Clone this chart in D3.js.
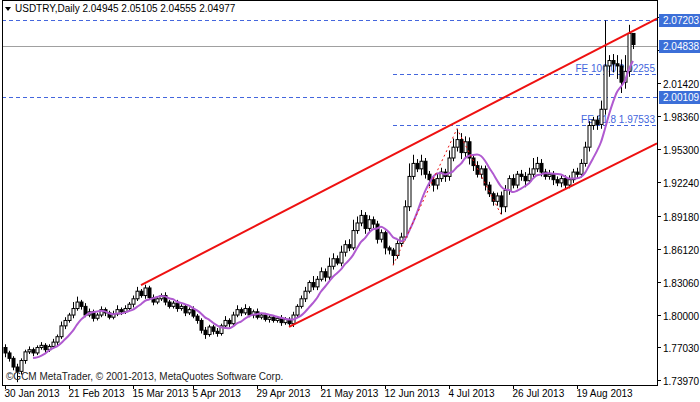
<!DOCTYPE html><html><head><meta charset="utf-8"><script src="https://cdn.jsdelivr.net/npm/d3@7"></script>
<style>body{margin:0;background:#fff}text{font-family:"Liberation Sans",sans-serif;font-size:10px}</style></head><body><svg id="c" width="700" height="402"></svg><script>
const closes=[1.765,1.760,1.752,1.748,1.758,1.766,1.768,1.765,1.770,1.772,1.768,1.771,1.775,1.780,1.790,1.795,1.800,1.806,1.812,1.808,1.800,1.803,1.797,1.800,1.805,1.802,1.798,1.801,1.805,1.803,1.806,1.810,1.815,1.822,1.818,1.825,1.816,1.812,1.815,1.818,1.812,1.808,1.811,1.806,1.808,1.802,1.805,1.799,1.795,1.786,1.782,1.789,1.785,1.783,1.790,1.795,1.792,1.800,1.805,1.802,1.806,1.800,1.803,1.798,1.800,1.796,1.798,1.795,1.797,1.793,1.796,1.792,1.800,1.808,1.815,1.822,1.830,1.826,1.833,1.840,1.835,1.845,1.852,1.848,1.858,1.865,1.862,1.878,1.885,1.892,1.880,1.888,1.884,1.870,1.876,1.862,1.860,1.855,1.866,1.872,1.900,1.928,1.940,1.935,1.942,1.930,1.925,1.920,1.926,1.932,1.928,1.945,1.955,1.962,1.950,1.960,1.945,1.938,1.930,1.935,1.920,1.912,1.905,1.910,1.900,1.915,1.926,1.920,1.930,1.928,1.924,1.930,1.935,1.940,1.932,1.928,1.930,1.925,1.922,1.926,1.920,1.925,1.932,1.930,1.940,1.955,1.975,1.980,1.976,1.990,2.030,2.035,2.032,2.030,2.015,2.025,2.060,2.0498];
const firstOpen=1.770;
const hiExt=[3,2,2,3,2,2,3,2,2,3,2,2,3,2,4,3,2,6,5,2,3,3,2,2,3,2,2,3,4,2,3,2,3,4,2,3,2,3,2,2,3,2,2,3,2,2,2,3,2,2,3,2,2,3,2,4,2,3,4,2,4,2,2,3,2,2,3,2,2,3,2,2,3,2,3,4,2,6,3,4,3,8,5,3,6,4,5,10,6,5,3,4,3,3,3,2,2,2,3,4,6,12,8,4,6,3,3,3,5,4,3,7,8,10,6,5,4,3,4,3,3,3,2,3,4,5,3,4,3,4,4,6,10,6,4,3,4,3,3,3,3,4,3,4,4,5,4,3,4,10,37,10,6,8,6,8,8,3];
const loExt=[4,3,3,10,3,3,2,3,2,2,3,2,2,3,2,3,2,3,2,3,2,2,3,2,2,3,2,2,2,3,2,2,3,2,2,3,2,3,2,2,3,2,2,3,2,3,2,2,3,3,4,2,3,3,2,2,3,2,2,3,2,2,3,2,2,2,3,2,2,3,2,2,3,2,2,3,2,3,3,2,4,3,3,2,3,4,3,2,3,3,5,3,4,4,3,6,4,6,3,3,3,4,3,3,6,4,6,6,4,3,5,4,3,4,6,5,6,5,3,4,5,3,4,4,3,5,4,3,3,4,6,3,3,3,4,3,3,5,3,4,3,3,3,4,3,3,4,4,5,4,5,10,8,12,6,6,5];
const highOverride={113:1.972,149:1.998,150:2.072,151:2.040,155:2.040,156:2.068,157:2.0511};
const lowOverride={97:1.846,124:1.893,154:2.005,157:2.0456};
const xTickBars=[0,16,32,47,63,79,95,111,127,143];
const xTickLabels=["30 Jan 2013","21 Feb 2013","15 Mar 2013","5 Apr 2013","29 Apr 2013","21 May 2013","12 Jun 2013","4 Jul 2013","26 Jul 2013","19 Aug 2013"];
const yTicks=[2.0754,2.0448,2.0142,1.9836,1.9530,1.9224,1.8918,1.8612,1.8306,1.8000,1.7703,1.7397];
const hiddenTicks=[2.0754,2.0448];
const hLevels=[{v:2.07203,c:"#4466dd",label:"2.07203"},{v:2.04838,c:"#a0a0a0",label:"2.04838"},{v:2.00109,c:"#4466dd",label:"2.00109"}];
const feLevels=[{v:2.02255,label:"FE 100.0 2.02255",from:97},{v:1.97533,label:"FE 61.8 1.97533",from:97}];
const upperLine=[[34,1.8277],[163,2.0738]],lowerLine=[[71,1.789],[163,1.9586]];
const zigzag=[[97,1.8460],[113,1.9720],[124,1.8930]];
const header="USDTRY,Daily  2.04945 2.05105 2.04555 2.04977";

const svg=d3.select("#c");
const W=657,H=385;
const x=d3.scaleLinear().domain([0,1]).range([5,9]);
const y=d3.scaleLinear().domain([1.7354,2.0909]).range([H,0]);
const g=svg.append("g");
hLevels.forEach(l=>g.append("line").attr("x1",2).attr("x2",W).attr("y1",Math.round(y(l.v))+.5).attr("y2",Math.round(y(l.v))+.5).attr("stroke",l.c).attr("stroke-dasharray",l.c==="#a0a0a0"?null:"4,3"));
feLevels.forEach(l=>{const yy=Math.round(y(l.v))+.5;g.append("line").attr("x1",x(l.from)).attr("x2",W).attr("y1",yy).attr("y2",yy).attr("stroke","#4466dd").attr("stroke-dasharray","4,3");
g.append("text").attr("x",W-2).attr("y",yy-3).attr("text-anchor","end").attr("fill","#4466dd").text(l.label);});
const opens=closes.map((c,i)=>i?closes[i-1]:firstOpen);
closes.forEach((c,i)=>{const o=opens[i],cx=Math.round(x(i))+.5;
const hi=highOverride[i]!==undefined?highOverride[i]:Math.max(o,c)+(hiExt[i]||2)/1000;
const lo=lowOverride[i]!==undefined?lowOverride[i]:Math.min(o,c)-(loExt[i]||2)/1000;
g.append("line").attr("x1",cx).attr("x2",cx).attr("y1",y(hi)).attr("y2",y(lo)).attr("stroke","#000");
const t=y(Math.max(o,c)),b=y(Math.min(o,c));
g.append("rect").attr("x",cx-1.5).attr("y",t).attr("width",3).attr("height",Math.max(1,b-t)).attr("fill",c>=o?"#fff":"#000").attr("stroke","#000");});
const per=8,ma=[];closes.forEach((c,i)=>{if(i>=per-1)ma.push([i,d3.mean(closes.slice(i-per+1,i+1))]);});
g.append("path").attr("d",d3.line().x(p=>x(p[0])).y(p=>y(p[1])).curve(d3.curveMonotoneX)(ma)).attr("fill","none").attr("stroke","#b05ad0").attr("stroke-width",2);
[upperLine,lowerLine].forEach(L=>g.append("line").attr("x1",x(L[0][0])).attr("y1",y(L[0][1])).attr("x2",x(L[1][0])).attr("y2",y(L[1][1])).attr("stroke","#ee1111").attr("stroke-width",2));
g.append("path").attr("d",d3.line().x(p=>x(p[0])).y(p=>y(p[1]))(zigzag)).attr("fill","none").attr("stroke","#ee1111").attr("stroke-dasharray","2,3");
svg.append("rect").attr("x",2.5).attr("y",0.5).attr("width",W-2).attr("height",H).attr("fill","none").attr("stroke","#000");
yTicks.forEach(v=>{const yy=Math.round(y(v))+.5;svg.append("line").attr("x1",W).attr("x2",W+4).attr("y1",yy).attr("y2",yy).attr("stroke","#000");
if(!hiddenTicks.includes(v))svg.append("text").attr("x",W+6).attr("y",yy+4).text(v.toFixed(5));});
hLevels.forEach(l=>{const yy=Math.round(y(l.v));svg.append("rect").attr("x",W+2).attr("y",yy-6).attr("width",41).attr("height",13).attr("fill","#3c6fd8");
svg.append("text").attr("x",W+6).attr("y",yy+4).attr("fill","#fff").text(l.label);});
xTickBars.forEach((b,k)=>{const xx=Math.round(x(b))+.5;svg.append("line").attr("x1",xx).attr("x2",xx).attr("y1",H).attr("y2",H+4).attr("stroke","#000");
svg.append("text").attr("x",xx-1).attr("y",H+12).text(xTickLabels[k]);});
svg.append("text").attr("x",6).attr("y",380).attr("fill","#222").text("©GCM MetaTrader, © 2001-2013, MetaQuotes Software Corp.");
svg.append("path").attr("d","M5,7 L11,7 L8,11 Z").attr("fill","#000");
svg.append("text").attr("x",15).attr("y",12).text(header);
</script></body></html>
